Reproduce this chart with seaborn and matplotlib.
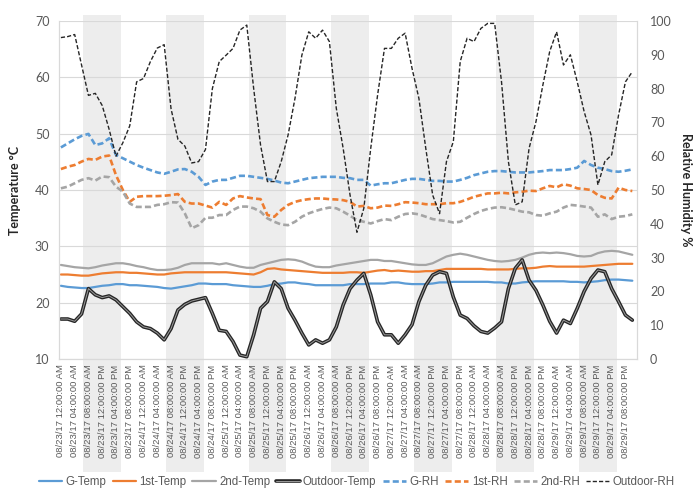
import numpy as np
import pandas as pd
import matplotlib
matplotlib.use("Agg")
import matplotlib.pyplot as plt
import matplotlib.patheffects as pe
import seaborn as sns

# readings every 2 hours, 08/23/17 12 AM -> 08/29/17 10 PM (hour index 0..166)
g_temp = [23.0, 22.8, 22.7, 22.6, 22.6, 22.8, 23.0, 23.1, 23.3, 23.3, 23.1, 23.1,
          23.0, 22.9, 22.8, 22.6, 22.5, 22.7, 22.9, 23.1, 23.4, 23.4, 23.3, 23.3,
          23.3, 23.1, 23.0, 22.9, 22.8, 22.8, 23.0, 23.3, 23.4, 23.6, 23.6, 23.4,
          23.3, 23.1, 23.1, 23.1, 23.1, 23.1, 23.3, 23.3, 23.3, 23.4, 23.4, 23.4,
          23.6, 23.6, 23.4, 23.3, 23.3, 23.3, 23.4, 23.6, 23.6, 23.7, 23.7, 23.7,
          23.7, 23.7, 23.7, 23.6, 23.6, 23.4, 23.4, 23.6, 23.7, 23.8, 23.8, 23.8,
          23.8, 23.8, 23.7, 23.7, 23.6, 23.7, 23.8, 24.0, 24.1, 24.1, 24.0, 23.9]
first_temp = [25.0, 25.0, 24.9, 24.8, 24.8, 25.0, 25.2, 25.3, 25.4, 25.4, 25.3, 25.3,
              25.2, 25.1, 25.0, 25.0, 25.2, 25.3, 25.4, 25.4, 25.4, 25.4, 25.4, 25.4,
              25.4, 25.3, 25.2, 25.1, 25.0, 25.4, 26.0, 26.1, 25.9, 25.8, 25.7, 25.6,
              25.5, 25.4, 25.3, 25.3, 25.3, 25.3, 25.4, 25.4, 25.3, 25.5, 25.7, 25.8,
              25.6, 25.7, 25.6, 25.5, 25.5, 25.6, 25.6, 25.8, 26.0, 26.0, 26.0, 26.0,
              26.0, 26.0, 25.9, 25.9, 25.9, 25.9, 26.0, 26.1, 26.1, 26.2, 26.4, 26.5,
              26.4, 26.4, 26.4, 26.4, 26.4, 26.5, 26.6, 26.7, 26.8, 26.9, 26.9, 26.9]
second_temp = [26.7, 26.5, 26.3, 26.2, 26.1, 26.3, 26.6, 26.8, 27.0, 27.0, 26.8, 26.5,
               26.3, 26.0, 25.8, 25.8, 25.9, 26.2, 26.7, 27.0, 27.0, 27.0, 27.0, 26.8,
               27.0, 26.7, 26.4, 26.2, 26.2, 26.7, 27.0, 27.3, 27.6, 27.7, 27.6, 27.3,
               26.8, 26.4, 26.3, 26.3, 26.6, 26.8, 27.0, 27.2, 27.4, 27.6, 27.6, 27.4,
               27.4, 27.2, 27.0, 26.8, 26.7, 26.7, 27.0, 27.6, 28.2, 28.5, 28.7, 28.5,
               28.2, 27.9, 27.6, 27.4, 27.3, 27.4, 27.6, 28.0, 28.5, 28.8, 28.9, 28.8,
               28.9, 28.8, 28.6, 28.3, 28.2, 28.3, 28.8, 29.1, 29.2, 29.1, 28.8, 28.5]
outdoor_temp = [17.1, 17.1, 16.7, 18.0, 22.5, 21.4, 20.9, 21.2, 20.5, 19.3, 18.1, 16.6,
                15.7, 15.4, 14.6, 13.4, 15.4, 18.7, 19.7, 20.3, 20.6, 20.9, 18.1, 15.1,
                14.9, 13.1, 10.7, 10.4, 14.3, 19.0, 20.2, 23.7, 22.5, 19.0, 16.9, 14.6,
                12.5, 13.4, 12.8, 13.4, 15.7, 19.6, 22.5, 24.0, 25.2, 21.4, 16.6, 14.3,
                14.3, 12.8, 14.3, 16.1, 20.2, 23.1, 24.9, 25.5, 25.2, 21.0, 17.8, 17.2,
                15.9, 14.9, 14.6, 15.5, 16.6, 22.5, 26.1, 27.6, 24.0, 22.2, 19.6, 16.7,
                14.6, 16.9, 16.3, 19.0, 22.0, 24.3, 25.8, 25.5, 22.5, 20.2, 17.8, 16.9]
g_rh = [62.6, 63.8, 65.0, 66.0, 66.6, 63.3, 63.8, 65.3, 60.4, 59.4, 58.4, 57.4,
        56.6, 55.9, 55.2, 54.8, 55.4, 56.1, 56.2, 55.4, 53.9, 51.5, 52.5, 53.0,
        53.0, 53.6, 54.2, 54.2, 53.9, 53.6, 53.3, 52.8, 52.2, 52.0, 52.5, 53.0,
        53.5, 53.7, 53.9, 53.9, 53.9, 53.6, 53.5, 53.0, 53.0, 51.3, 51.7, 52.0,
        52.0, 52.5, 53.0, 53.3, 53.3, 53.0, 52.7, 52.7, 52.5, 52.5, 53.0, 53.6,
        54.4, 54.9, 55.4, 55.6, 55.6, 55.4, 55.2, 55.2, 55.2, 55.4, 55.6, 55.9,
        55.9, 55.9, 56.2, 56.6, 58.6, 57.4, 56.6, 56.2, 55.6, 55.4, 55.7, 56.1]
first_rh = [56.2, 56.9, 57.4, 58.4, 59.2, 58.9, 59.9, 60.2, 54.4, 50.0, 46.5, 48.0,
            48.2, 48.2, 48.2, 48.3, 48.5, 48.8, 46.5, 46.0, 46.0, 45.4, 44.8, 46.5,
            45.6, 47.5, 48.2, 47.8, 47.5, 47.3, 42.6, 42.1, 44.1, 45.6, 46.5, 47.0,
            47.3, 47.5, 47.5, 47.3, 47.2, 47.0, 46.5, 45.1, 45.3, 44.6, 44.8, 45.4,
            45.3, 45.8, 46.4, 46.3, 46.1, 45.8, 45.8, 45.8, 46.1, 46.1, 46.5, 47.2,
            48.0, 48.5, 49.0, 49.0, 49.2, 49.0, 49.3, 49.5, 49.8, 49.7, 50.5, 51.2,
            50.8, 51.7, 51.3, 50.5, 50.3, 50.0, 48.5, 47.7, 47.5, 50.7, 50.0, 49.7]
second_rh = [50.5, 51.0, 52.0, 53.0, 53.5, 52.8, 54.0, 53.8, 51.0, 49.5, 46.0, 45.0,
             45.0, 45.0, 45.6, 45.8, 46.4, 46.3, 43.1, 38.7, 39.6, 41.8, 41.8, 42.6,
             42.6, 44.1, 45.1, 45.1, 44.6, 43.6, 41.6, 40.6, 39.8, 39.6, 40.6, 42.1,
             43.1, 43.8, 44.4, 44.8, 44.6, 43.6, 42.4, 41.1, 40.6, 40.1, 40.8, 41.4,
             41.1, 42.1, 42.9, 43.1, 42.8, 42.1, 41.4, 41.1, 40.8, 40.4, 40.6, 41.8,
             42.9, 43.8, 44.4, 44.8, 44.9, 44.6, 44.1, 43.6, 43.4, 42.6, 42.4, 43.1,
             43.6, 44.8, 45.6, 45.4, 45.1, 44.8, 42.1, 42.8, 41.4, 42.1, 42.3, 42.8]
outdoor_rh = [95.1, 95.4, 96.0, 87.0, 78.0, 78.6, 75.0, 68.0, 60.0, 64.0, 69.0, 82.0,
              83.0, 88.0, 92.0, 93.0, 74.0, 65.0, 63.0, 58.0, 58.4, 62.0, 80.0, 88.0,
              89.9, 91.9, 97.3, 98.8, 80.0, 63.3, 52.5, 52.5, 58.4, 66.3, 77.1, 89.9,
              96.8, 94.9, 97.3, 93.9, 74.2, 62.3, 48.5, 37.5, 44.6, 62.3, 78.1, 91.9,
              91.9, 94.9, 96.4, 86.0, 77.1, 62.3, 48.5, 43.0, 58.4, 64.3, 88.0, 94.9,
              93.9, 97.8, 99.3, 99.3, 82.0, 58.4, 45.6, 46.5, 62.3, 70.2, 81.0, 91.0,
              96.8, 87.0, 90.0, 82.0, 73.2, 66.3, 51.5, 58.4, 60.4, 72.2, 82.0, 85.0]

days = ["08/23/17", "08/24/17", "08/25/17", "08/26/17", "08/27/17", "08/28/17", "08/29/17"]
times = ["12:00:00 AM", "04:00:00 AM", "08:00:00 AM", "12:00:00 PM", "04:00:00 PM", "08:00:00 PM"]
tick_labels = [f"{d} {t}" for d in days for t in times]

df = pd.DataFrame({
    "hour": np.arange(0, 168, 2) + 0.5,
    "G-Temp": g_temp, "1st-Temp": first_temp, "2nd-Temp": second_temp,
    "Outdoor-Temp": outdoor_temp, "G-RH": g_rh, "1st-RH": first_rh,
    "2nd-RH": second_rh, "Outdoor-RH": outdoor_rh,
})

sns.set_theme(style="white")
plt.rcParams["font.family"] = ["Lato", "DejaVu Sans"]
narrow = ["Liberation Sans Narrow", "Liberation Sans", "DejaVu Sans"]
grey_txt = "#595959"
grid_c = "#d9d9d9"

fig = plt.figure(figsize=(6.93, 4.91), dpi=100)
ax = fig.add_axes([0.0854, 0.2688, 0.8345, 0.6884])
ax2 = ax.twinx()

# shaded daytime bands (8 AM - 4 PM)
for d in range(7):
    ax.axvspan(24 * d + 7, 24 * d + 18, ymin=-0.334, ymax=1.018, color="#ededed",
               lw=0, zorder=0, clip_on=False)

sns.lineplot(data=df, x="hour", y="G-Temp", ax=ax, color="#5B9BD5", linewidth=1.6,
             label="G-Temp", legend=False)
sns.lineplot(data=df, x="hour", y="1st-Temp", ax=ax, color="#ED7D31", linewidth=1.6,
             label="1st-Temp", legend=False)
sns.lineplot(data=df, x="hour", y="2nd-Temp", ax=ax, color="#A5A5A5", linewidth=1.6,
             label="2nd-Temp", legend=False)
sns.lineplot(data=df, x="hour", y="Outdoor-Temp", ax=ax, color="#9a9a9a", linewidth=0.7,
             label="Outdoor-Temp", legend=False,
             path_effects=[pe.Stroke(linewidth=2.6, foreground="#262626"), pe.Normal()])

rh_dash = (0, (2.3, 1.2))
sns.lineplot(data=df, x="hour", y="G-RH", ax=ax2, color="#5B9BD5", linewidth=1.9,
             linestyle=rh_dash, label="G-RH", legend=False)
sns.lineplot(data=df, x="hour", y="1st-RH", ax=ax2, color="#ED7D31", linewidth=1.9,
             linestyle=rh_dash, label="1st-RH", legend=False)
sns.lineplot(data=df, x="hour", y="2nd-RH", ax=ax2, color="#A5A5A5", linewidth=1.9,
             linestyle=rh_dash, label="2nd-RH", legend=False)
sns.lineplot(data=df, x="hour", y="Outdoor-RH", ax=ax2, color="#262626", linewidth=1.0,
             linestyle=(0, (3, 1.5)), label="Outdoor-RH", legend=False)

ax.set_xlim(0, 168)
ax.set_ylim(10, 70)
ax.set_yticks(range(10, 71, 10))
ax2.set_ylim(0, 100)
ax2.set_yticks(range(0, 101, 10))
ax.set_xticks(np.arange(0, 168, 4) + 0.5)
ax.set_xticklabels(tick_labels, rotation=90, fontsize=6.8, color=grey_txt, family=narrow)
ax.set_xlabel("")
ax.set_ylabel("")
ax2.set_ylabel("")

ax.set_axisbelow(True)
ax.yaxis.grid(True, color=grid_c, lw=0.8)
ax.xaxis.grid(False)
ax2.grid(False)
ax.tick_params(axis="x", length=0, pad=4)
ax.tick_params(axis="y", length=0, pad=7, labelsize=9, colors=grey_txt)
ax2.tick_params(axis="y", length=0, pad=9, labelsize=9, colors=grey_txt)
for a in (ax, ax2):
    a.spines["top"].set_visible(False)
    for s in ("left", "right", "bottom"):
        a.spines[s].set_color(grid_c)
        a.spines[s].set_linewidth(0.8)

fig.text(0.022, 0.613, "Temperature °C", rotation=90, ha="center", va="center",
         fontsize=9, fontweight="bold", color="#262626")
fig.text(0.99, 0.613, "Relative Humidity %", rotation=270, ha="center", va="center",
         fontsize=9, fontweight="bold", color="#262626")

h1, l1 = ax.get_legend_handles_labels()
h2, l2 = ax2.get_legend_handles_labels()
fig.legend(h1 + h2, l1 + l2, loc="center", bbox_to_anchor=(0.515, 0.018), ncol=8,
           frameon=False, prop={"family": narrow, "size": 8.3}, handlelength=2.0,
           columnspacing=0.55, handletextpad=0.3, labelcolor=grey_txt)

fig.savefig("out.png", dpi=100)
